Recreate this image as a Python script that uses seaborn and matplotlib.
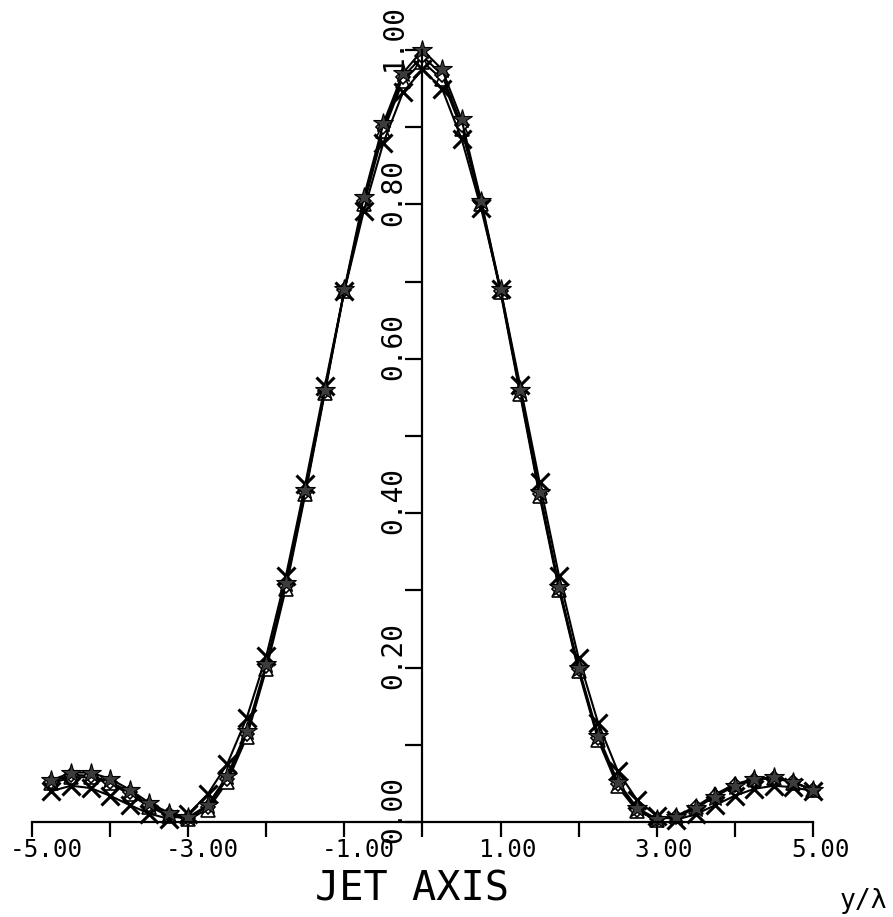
import numpy as np
import pandas as pd
import matplotlib
matplotlib.use("Agg")
import matplotlib.pyplot as plt
import seaborn as sns

# Normalised intensity profiles across the jet axis, sampled every 0.25 y/lambda
y_over_lambda = [-4.75, -4.5, -4.25, -4.0, -3.75, -3.5, -3.25, -3.0, -2.75, -2.5,
                 -2.25, -2.0, -1.75, -1.5, -1.25, -1.0, -0.75, -0.5, -0.25, 0.0,
                 0.25, 0.5, 0.75, 1.0, 1.25, 1.5, 1.75, 2.0, 2.25, 2.5,
                 2.75, 3.0, 3.25, 3.5, 3.75, 4.0, 4.25, 4.5, 4.75, 5.0]

profile_star = [0.054, 0.064, 0.064, 0.056, 0.042, 0.025, 0.012, 0.006, 0.022, 0.060,
                0.118, 0.205, 0.310, 0.430, 0.560, 0.690, 0.810, 0.905, 0.970, 1.000,
                0.975, 0.910, 0.805, 0.690, 0.560, 0.428, 0.305, 0.200, 0.112, 0.052,
                0.018, 0.004, 0.006, 0.018, 0.033, 0.047, 0.056, 0.058, 0.052, 0.041]

profile_cross = [0.040, 0.047, 0.044, 0.034, 0.022, 0.011, 0.004, 0.010, 0.036, 0.075,
                 0.135, 0.215, 0.318, 0.438, 0.565, 0.688, 0.792, 0.880, 0.945, 0.975,
                 0.950, 0.885, 0.795, 0.690, 0.566, 0.440, 0.318, 0.212, 0.128, 0.066,
                 0.028, 0.008, 0.003, 0.010, 0.022, 0.034, 0.043, 0.047, 0.045, 0.040]

profile_triangle = [0.050, 0.058, 0.058, 0.050, 0.036, 0.020, 0.008, 0.004, 0.016, 0.052,
                    0.110, 0.198, 0.302, 0.425, 0.556, 0.688, 0.800, 0.895, 0.960, 0.985,
                    0.962, 0.898, 0.800, 0.686, 0.554, 0.422, 0.300, 0.195, 0.106, 0.046,
                    0.014, 0.003, 0.008, 0.020, 0.036, 0.049, 0.056, 0.057, 0.051, 0.042]

profile_diamond = [0.052, 0.061, 0.060, 0.052, 0.039, 0.022, 0.010, 0.005, 0.020, 0.056,
                   0.114, 0.202, 0.306, 0.428, 0.558, 0.689, 0.805, 0.900, 0.965, 0.992,
                   0.968, 0.903, 0.803, 0.688, 0.557, 0.425, 0.302, 0.198, 0.109, 0.049,
                   0.016, 0.004, 0.007, 0.019, 0.034, 0.048, 0.055, 0.057, 0.052, 0.041]

x_major = [-5, -3, -1, 1, 3, 5]
x_labels = ["-5.00", "-3.00", "-1.00", "1.00", "3.00", "5.00"]
y_major = [0.0, 0.2, 0.4, 0.6, 0.8, 1.0]
y_labels = ["0.00", "0.20", "0.40", "0.60", "0.80", "1.00"]

sns.set_theme(style="white")
plt.rcParams["font.family"] = ["DejaVu Sans Mono", "DejaVu Sans"]

fig = plt.figure(figsize=(8.93, 9.17), dpi=100)
ax = fig.add_axes([0.0358, 0.1036, 0.8746, 0.8419])

series = [
    (profile_triangle, dict(marker="^", markersize=10, mfc="white", mec="black", mew=1.2)),
    (profile_diamond, dict(marker="D", markersize=7, mfc="white", mec="black", mew=1.2)),
    (profile_cross, dict(marker="x", markersize=13, mec="black", mew=2.2)),
    (profile_star, dict(marker="*", markersize=15, mfc="#3c3c3c", mec="black", mew=0.8)),
]
for values, style in series:
    df = pd.DataFrame({"x": y_over_lambda, "y": values})
    sns.lineplot(data=df, x="x", y="y", ax=ax, color="black", lw=1.5,
                 errorbar=None, clip_on=False, **style)

ax.set_xlim(-5, 5)
ax.set_ylim(0, 1)
ax.set_xlabel("")
ax.set_ylabel("")

# Cross-shaped axes: x axis along y=0, y axis along x=0
for side in ("top", "right"):
    ax.spines[side].set_visible(False)
ax.spines["left"].set_position(("data", 0))
ax.spines["bottom"].set_position(("data", 0))
for side in ("left", "bottom"):
    ax.spines[side].set_linewidth(1.6)
    ax.spines[side].set_color("black")

ax.set_xticks(np.arange(-5, 6, 1))
ax.set_yticks(np.arange(0, 1.01, 0.1))
ax.tick_params(axis="x", direction="out", length=11, width=1.6, color="black",
               labelbottom=False, bottom=True)
ax.tick_params(axis="y", direction="out", length=12, width=1.6, color="black",
               labelleft=False, left=True)

for xv, lab in zip(x_major, x_labels):
    off = 0.18 if xv < 0 else 0.09
    ax.text(xv + off, -0.036, lab, ha="center", va="center", fontsize=17.5,
            color="black", clip_on=False)

for yv, lab in zip(y_major, y_labels):
    ax.text(-0.37, yv + 0.016, lab, rotation=90, ha="center", va="center",
            fontsize=20, color="black", clip_on=False)

ax.text(-0.13, -0.088, "JET AXIS", ha="center", va="center", fontsize=29,
        color="black", clip_on=False)
ax.text(5.64, -0.102, "y/λ", ha="center", va="center", fontsize=19,
        color="black", clip_on=False)

fig.savefig("out.png", dpi=100, facecolor="white")
